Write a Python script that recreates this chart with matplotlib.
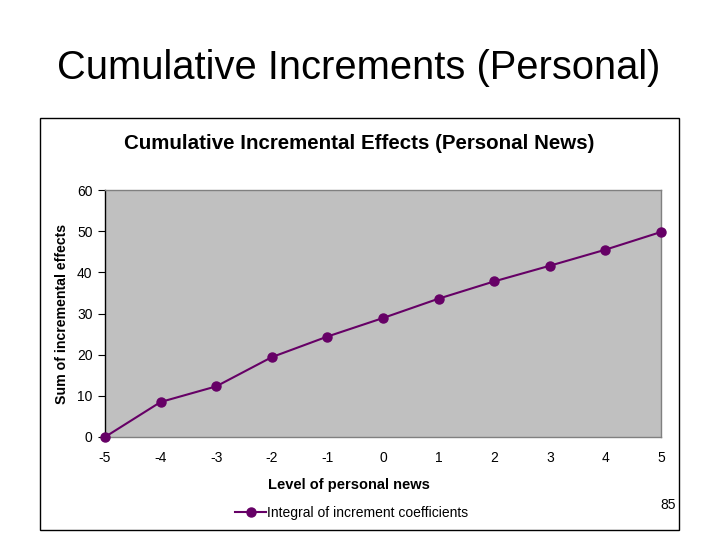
import matplotlib
matplotlib.use("Agg")
import matplotlib.pyplot as plt
from matplotlib.patches import Rectangle

levels = [-5, -4, -3, -2, -1, 0, 1, 2, 3, 4, 5]
cumulative = [0, 8.5, 12.3, 19.4, 24.4, 28.9, 33.6, 37.8, 41.6, 45.5, 49.8]
yticks = [0, 10, 20, 30, 40, 50, 60]

plt.rcParams['font.family'] = ['Liberation Sans', 'DejaVu Sans']

W, H = 720, 540
fig = plt.figure(figsize=(7.2, 5.4), dpi=100)
fig.patch.set_facecolor('white')

# slide title
fig.text(359 / W, 1 - 68 / H, 'Cumulative Increments (Personal)', ha='center', va='center',
         fontsize=28.7)

# chart box
fig.patches.append(Rectangle((40 / W, 1 - 530 / H), (679 - 40) / W, (530 - 118) / H,
                             transform=fig.transFigure, fill=False, edgecolor='black', lw=1.0))

# plot area
x0, x1, yt, yb = 105, 661, 190, 437
ax = fig.add_axes([x0 / W, 1 - yb / H, (x1 - x0) / W, (yb - yt) / H])
ax.set_facecolor('#C0C0C0')
for s in ax.spines.values():
    s.set_color('#808080')
    s.set_linewidth(1.0)

ax.plot(levels, cumulative, color='#660066', lw=1.5, marker='o', markersize=6.5,
        clip_on=False, zorder=5, label='Integral of increment coefficients')

ax.set_xlim(-5, 5)
ax.set_ylim(0, 60)
ax.set_xticks(levels)
ax.set_xticklabels([str(v) for v in levels])
ax.set_yticks(yticks)
ax.tick_params(axis='x', length=0, pad=10, labelsize=10)
ax.tick_params(axis='y', length=5, direction='out', color='black', pad=4, labelsize=10)
ax.set_xticks([-1, 0], minor=True)
ax.tick_params(axis='x', which='minor', length=4, direction='inout', color='black')
ax.spines['left'].set_color('black')

ax.set_xlabel('Level of personal news', fontsize=10.5, fontweight='bold')
ax.xaxis.set_label_coords((349 - x0) / (x1 - x0), -(485 - yb) / (yb - yt), transform=ax.transAxes)
ax.xaxis.label.set_va('center')
ax.set_ylabel('Sum of incremental effects', fontsize=10.2, fontweight='bold')
ax.yaxis.set_label_coords(-(x0 - 62) / (x1 - x0), 0.5)
ax.yaxis.label.set_va('center')

fig.text(359 / W, 1 - 144 / H, 'Cumulative Incremental Effects (Personal News)', ha='center',
         va='center', fontsize=14.8, fontweight='bold')

leg = fig.legend(*ax.get_legend_handles_labels(), loc='center', bbox_to_anchor=(352 / W, 1 - 513 / H),
                 frameon=False, fontsize=10, handlelength=2.2, handletextpad=0.1)

fig.text(668 / W, 1 - 505 / H, '85', ha='center', va='center', fontsize=10)

fig.savefig('out.png', dpi=100)
